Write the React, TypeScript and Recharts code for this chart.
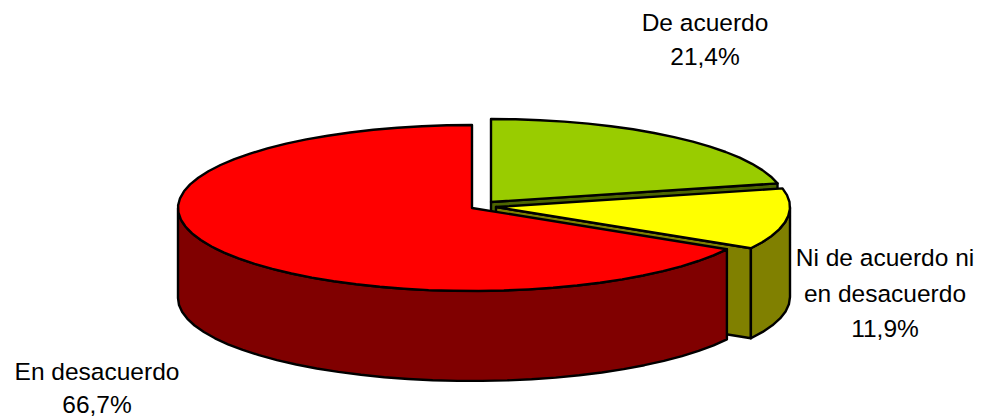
import React from 'react';
import { PieChart, Pie } from 'recharts';

const categories = ['De acuerdo', 'Ni de acuerdo ni en desacuerdo', 'En desacuerdo'];
const values = [21.4, 11.9, 66.7];
const labelLines = [['De acuerdo'], ['Ni de acuerdo ni', 'en desacuerdo'], ['En desacuerdo']];
const topColors = ['#99CC00', '#FFFF00', '#FF0000'];
const wallColors = ['#4D6600', '#808000', '#800000'];

// presentation only
const SQUASH = 83 / 294;
const DEPTH = 90;
const EXPLODE = [
  { dx: 10, dy: -3 },
  { dx: 15, dy: 2 },
  { dx: -9, dy: 3 },
];
const LABEL_POS = [
  { x: 705, y: 31 },
  { x: 885, y: 266 },
  { x: 97, y: 379.5 },
];
const LINE_H = [34, 35.5, 33];

const data = categories.map((name, i) => ({
  name,
  value: values[i],
  top: topColors[i],
  wall: wallColors[i],
  idx: i,
}));

const fmt = (v: number) => `${v.toFixed(1).replace('.', ',')}%`;

function pt(cx: number, cy: number, r: number, t: number) {
  const a = (t * Math.PI) / 180;
  return [cx + r * Math.sin(a), cy - r * SQUASH * Math.cos(a)];
}

function arcPts(cx: number, cy: number, r: number, t1: number, t2: number) {
  const out: number[][] = [];
  const n = Math.max(1, Math.ceil((t2 - t1) / 5));
  for (let i = 0; i <= n; i++) out.push(pt(cx, cy, r, t1 + ((t2 - t1) * i) / n));
  return out;
}

const toPath = (p: number[][]) =>
  'M' + p.map((q) => `${q[0].toFixed(1)},${q[1].toFixed(1)}`).join('L') + 'Z';

function Slice3D(props: any) {
  const { cx, cy, outerRadius, startAngle, endAngle, payload } = props;
  const i = payload?.idx ?? props.idx ?? 0;
  const top = payload?.top ?? props.top;
  const wall = payload?.wall ?? props.wall;
  const x = cx + EXPLODE[i].dx;
  const y = cy + EXPLODE[i].dy;
  const t1 = 90 - Math.max(startAngle, endAngle);
  const t2 = 90 - Math.min(startAngle, endAngle);
  const stroke = { stroke: '#000', strokeWidth: 2.4, strokeLinejoin: 'round' as const };

  const parts: React.ReactNode[] = [];
  if (t2 > 0 && t2 < 180) {
    const e = pt(x, y, outerRadius, t2);
    parts.push(
      <path
        key="radial"
        d={toPath([[x, y], e, [e[0], e[1] + DEPTH], [x, y + DEPTH]])}
        fill={wall}
        {...stroke}
      />
    );
  }
  const w1 = Math.max(t1, 90);
  const w2 = Math.min(t2, 270);
  if (w2 > w1) {
    const a = arcPts(x, y, outerRadius, w1, w2);
    const b = a.map((q) => [q[0], q[1] + DEPTH]).reverse();
    parts.push(<path key="outer" d={toPath([...a, ...b])} fill={wall} {...stroke} />);
  }
  parts.push(
    <path
      key="top"
      d={toPath([[x, y], ...arcPts(x, y, outerRadius, t1, t2)])}
      fill={top}
      {...stroke}
    />
  );
  return <g>{parts}</g>;
}

function SliceLabel(props: any) {
  const i = props.index;
  const pos = LABEL_POS[i];
  const lines = [...labelLines[i], fmt(values[i])];
  return (
    <text
      x={pos.x}
      y={pos.y}
      textAnchor="middle"
      fontFamily="'Liberation Sans', Arial, sans-serif"
      fontSize={24.5}
      fill="#000"
    >
      {lines.map((l, k) => (
        <tspan key={k} x={pos.x} y={pos.y + k * LINE_H[i]}>
          {l}
        </tspan>
      ))}
    </text>
  );
}

export default function App() {
  return (
    <div style={{ position: 'absolute', left: 0, top: 0, width: 983, height: 418, background: '#fff' }}>
      <PieChart width={983} height={418} margin={{ top: 0, right: 0, bottom: 0, left: 0 }}>
        <Pie
          data={data}
          dataKey="value"
          nameKey="name"
          cx={481}
          cy={205}
          innerRadius={0}
          outerRadius={294}
          startAngle={90}
          endAngle={-270}
          isAnimationActive={false}
          shape={Slice3D}
          activeShape={Slice3D}
          inactiveShape={Slice3D}
          label={SliceLabel}
          labelLine={false}
          stroke="none"
        />
      </PieChart>
    </div>
  );
}
